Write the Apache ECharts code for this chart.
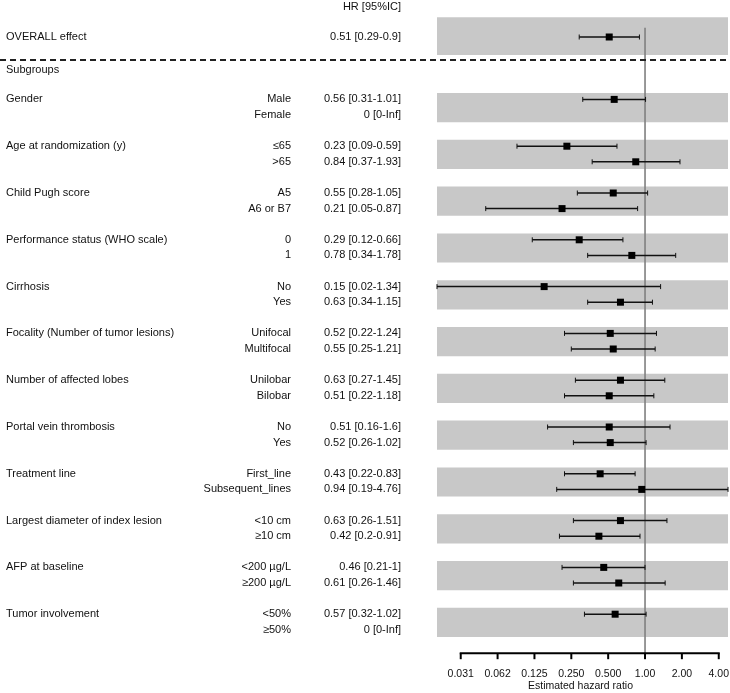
<!DOCTYPE html>
<html>
<head>
<meta charset="utf-8">
<script src="https://cdn.jsdelivr.net/npm/echarts@6/dist/echarts.min.js"></script>
<style>html,body{margin:0;padding:0;background:#fff}#chart{width:730px;height:693px}</style>
</head>
<body>
<div id="chart"></div>
<script>
// ---- data ----
const overallLabel = 'OVERALL effect';
const overallHR = [0.51, 0.29, 0.9];
const groups = ['Gender', 'Age at randomization (y)', 'Child Pugh score', 'Performance status (WHO scale)',
  'Cirrhosis', 'Focality (Number of tumor lesions)', 'Number of affected lobes', 'Portal vein thrombosis',
  'Treatment line', 'Largest diameter of index lesion', 'AFP at baseline', 'Tumor involvement'];
const subLabels = [['Male','Female'], ['≤65','>65'], ['A5','A6 or B7'], ['0','1'], ['No','Yes'],
  ['Unifocal','Multifocal'], ['Unilobar','Bilobar'], ['No','Yes'], ['First_line','Subsequent_lines'],
  ['<10 cm','≥10 cm'], ['<200 µg/L','≥200 µg/L'], ['<50%','≥50%']];
const hrValues = [[0.56, 0], [0.23, 0.84], [0.55, 0.21], [0.29, 0.78], [0.15, 0.63], [0.52, 0.55],
  [0.63, 0.51], [0.51, 0.52], [0.43, 0.94], [0.63, 0.42], [0.46, 0.61], [0.57, 0]];
const ciLow = [[0.31, 0], [0.09, 0.37], [0.28, 0.05], [0.12, 0.34], [0.02, 0.34], [0.22, 0.25],
  [0.27, 0.22], [0.16, 0.26], [0.22, 0.19], [0.26, 0.2], [0.21, 0.26], [0.32, 0]];
const ciHigh = [[1.01, Infinity], [0.59, 1.93], [1.05, 0.87], [0.66, 1.78], [1.34, 1.15], [1.24, 1.21],
  [1.45, 1.18], [1.6, 1.02], [0.83, 4.76], [1.51, 0.91], [1, 1.46], [1.02, Infinity]];
const tickValues = [0.03125, 0.0625, 0.125, 0.25, 0.5, 1, 2, 4];
const tickLabels = ['0.031', '0.062', '0.125', '0.250', '0.500', '1.00', '2.00', '4.00'];
const headerText = 'HR [95%IC]';
const subgroupsText = 'Subgroups';
const axisTitle = 'Estimated hazard ratio';

// ---- build rows ----
const fmt = v => (v === Infinity ? 'Inf' : String(v));
const rows = [];
rows.push({label: overallLabel, sub: '', hr: overallHR[0], lo: overallHR[1], hi: overallHR[2], slot: 0});
const bands = [[-1.27, 1.15]];
groups.forEach((g, i) => {
  const s1 = 4 + 3 * i;
  for (let j = 0; j < 2; j++) {
    rows.push({label: j === 0 ? g : '', sub: subLabels[i][j], hr: hrValues[i][j], lo: ciLow[i][j], hi: ciHigh[i][j], slot: s1 + j});
  }
  bands.push([s1 - 0.41, s1 + 1 + 0.46]);
});
const xMin = Math.min(...rows.map(r => r.lo).filter(v => v > 0));
const xMax = Math.max(...rows.map(r => r.hi).filter(v => isFinite(v)));

const FONT = '"Liberation Sans", Arial, Helvetica, sans-serif';
const TXT = '#111';
const axisSlot = 39.5;
const refTopSlot = -0.6;

const chart = echarts.init(document.getElementById('chart'), null, {renderer: 'canvas'});
const option = {
  animation: false,
  grid: {left: 437, right: 2, top: 37 - 2 * 15.6, bottom: 693 - (37 + 41 * 15.6)},
  xAxis: {type: 'log', logBase: 2, min: xMin, max: xMax, show: false},
  yAxis: {type: 'value', inverse: true, min: -2, max: 41, show: false},
  series: [
    { // grey bands
      type: 'custom', clip: false, z: 1,
      data: bands,
      renderItem: (params, api) => {
        const cs = params.coordSys;
        const y0 = api.coord([xMin, api.value(0)])[1];
        const y1 = api.coord([xMin, api.value(1)])[1];
        return {type: 'rect', shape: {x: cs.x, y: y0, width: cs.width, height: y1 - y0}, style: {fill: '#c8c8c8'}};
      }
    },
    { // reference line at HR = 1
      type: 'custom', clip: false, z: 2,
      data: [[1]],
      renderItem: (params, api) => {
        const p0 = api.coord([api.value(0), refTopSlot]);
        const p1 = api.coord([api.value(0), axisSlot]);
        return {type: 'line', shape: {x1: p0[0], y1: p0[1], x2: p1[0], y2: p1[1]}, style: {stroke: '#7f7f7f', lineWidth: 1.6}};
      }
    },
    { // dashed separator
      type: 'custom', clip: false, z: 3,
      data: [[1.47]],
      renderItem: (params, api) => {
        const y = api.coord([1, api.value(0)])[1];
        return {type: 'line', shape: {x1: 0, y1: y, x2: api.getWidth(), y2: y}, style: {stroke: '#222', lineWidth: 2, lineDash: [6, 4]}};
      }
    },
    { // axis ticks & labels
      type: 'custom', clip: false, z: 3,
      data: tickValues.map((v, i) => [v, i]),
      renderItem: (params, api) => {
        const v = api.value(0);
        const i = api.value(1);
        const p = api.coord([v, axisSlot]);
        const children = [
          {type: 'line', shape: {x1: p[0], y1: p[1], x2: p[0], y2: p[1] + 6}, style: {stroke: '#000', lineWidth: 2}},
          {type: 'text', style: {text: tickLabels[i], x: p[0], y: p[1] + 21, align: 'center', verticalAlign: 'middle', fill: TXT, font: '10.5px ' + FONT}}
        ];
        if (i === 0) {
          const q = api.coord([tickValues[tickValues.length - 1], axisSlot]);
          children.push({type: 'line', shape: {x1: p[0] - 1, y1: p[1], x2: q[0] + 1, y2: q[1]}, style: {stroke: '#000', lineWidth: 2}});
          const cs = params.coordSys;
          children.push({type: 'text', style: {text: axisTitle, x: cs.x + cs.width / 2 - 2, y: p[1] + 33, align: 'center', verticalAlign: 'middle', fill: TXT, font: '10.5px ' + FONT}});
        }
        return {type: 'group', children};
      }
    },
    { // CI lines and squares
      type: 'custom', clip: false, z: 4,
      data: rows.filter(r => r.hr > 0).map(r => [r.hr, r.lo, r.hi, r.slot]),
      renderItem: (params, api) => {
        const y = api.value(3);
        const c = api.coord([api.value(0), y]);
        const a = api.coord([api.value(1), y]);
        const b = api.coord([api.value(2), y]);
        const sz = 7;
        return {type: 'group', children: [
          {type: 'line', shape: {x1: a[0], y1: a[1], x2: b[0], y2: b[1]}, style: {stroke: '#111', lineWidth: 1.5}},
          {type: 'line', shape: {x1: a[0], y1: a[1] - 2.5, x2: a[0], y2: a[1] + 2.5}, style: {stroke: '#111', lineWidth: 1}},
          {type: 'line', shape: {x1: b[0], y1: b[1] - 2.5, x2: b[0], y2: b[1] + 2.5}, style: {stroke: '#111', lineWidth: 1}},
          {type: 'rect', shape: {x: c[0] - sz / 2, y: c[1] - sz / 2, width: sz, height: sz}, style: {fill: '#000'}}
        ]};
      }
    },
    { // text columns
      type: 'custom', clip: false, z: 5,
      data: rows.map((r, i) => [i, r.slot]),
      renderItem: (params, api) => {
        const r = rows[api.value(0)];
        const y = api.coord([1, r.slot])[1];
        const f = '11px ' + FONT;
        const txt = r.hr + ' [' + fmt(r.lo) + '-' + fmt(r.hi) + ']';
        const children = [
          {type: 'text', style: {text: r.label, x: 6, y, align: 'left', verticalAlign: 'middle', fill: TXT, font: f}},
          {type: 'text', style: {text: r.sub, x: 291, y, align: 'right', verticalAlign: 'middle', fill: TXT, font: f}},
          {type: 'text', style: {text: txt, x: 401, y, align: 'right', verticalAlign: 'middle', fill: TXT, font: f}}
        ];
        if (api.value(0) === 0) {
          const yh = api.coord([1, -1.91])[1];
          const ys = api.coord([1, 2.12])[1];
          children.push({type: 'text', style: {text: headerText, x: 401, y: yh, align: 'right', verticalAlign: 'middle', fill: TXT, font: f}});
          children.push({type: 'text', style: {text: subgroupsText, x: 6, y: ys, align: 'left', verticalAlign: 'middle', fill: TXT, font: f}});
        }
        return {type: 'group', children};
      }
    }
  ]
};
chart.setOption(option);
</script>
</body>
</html>
